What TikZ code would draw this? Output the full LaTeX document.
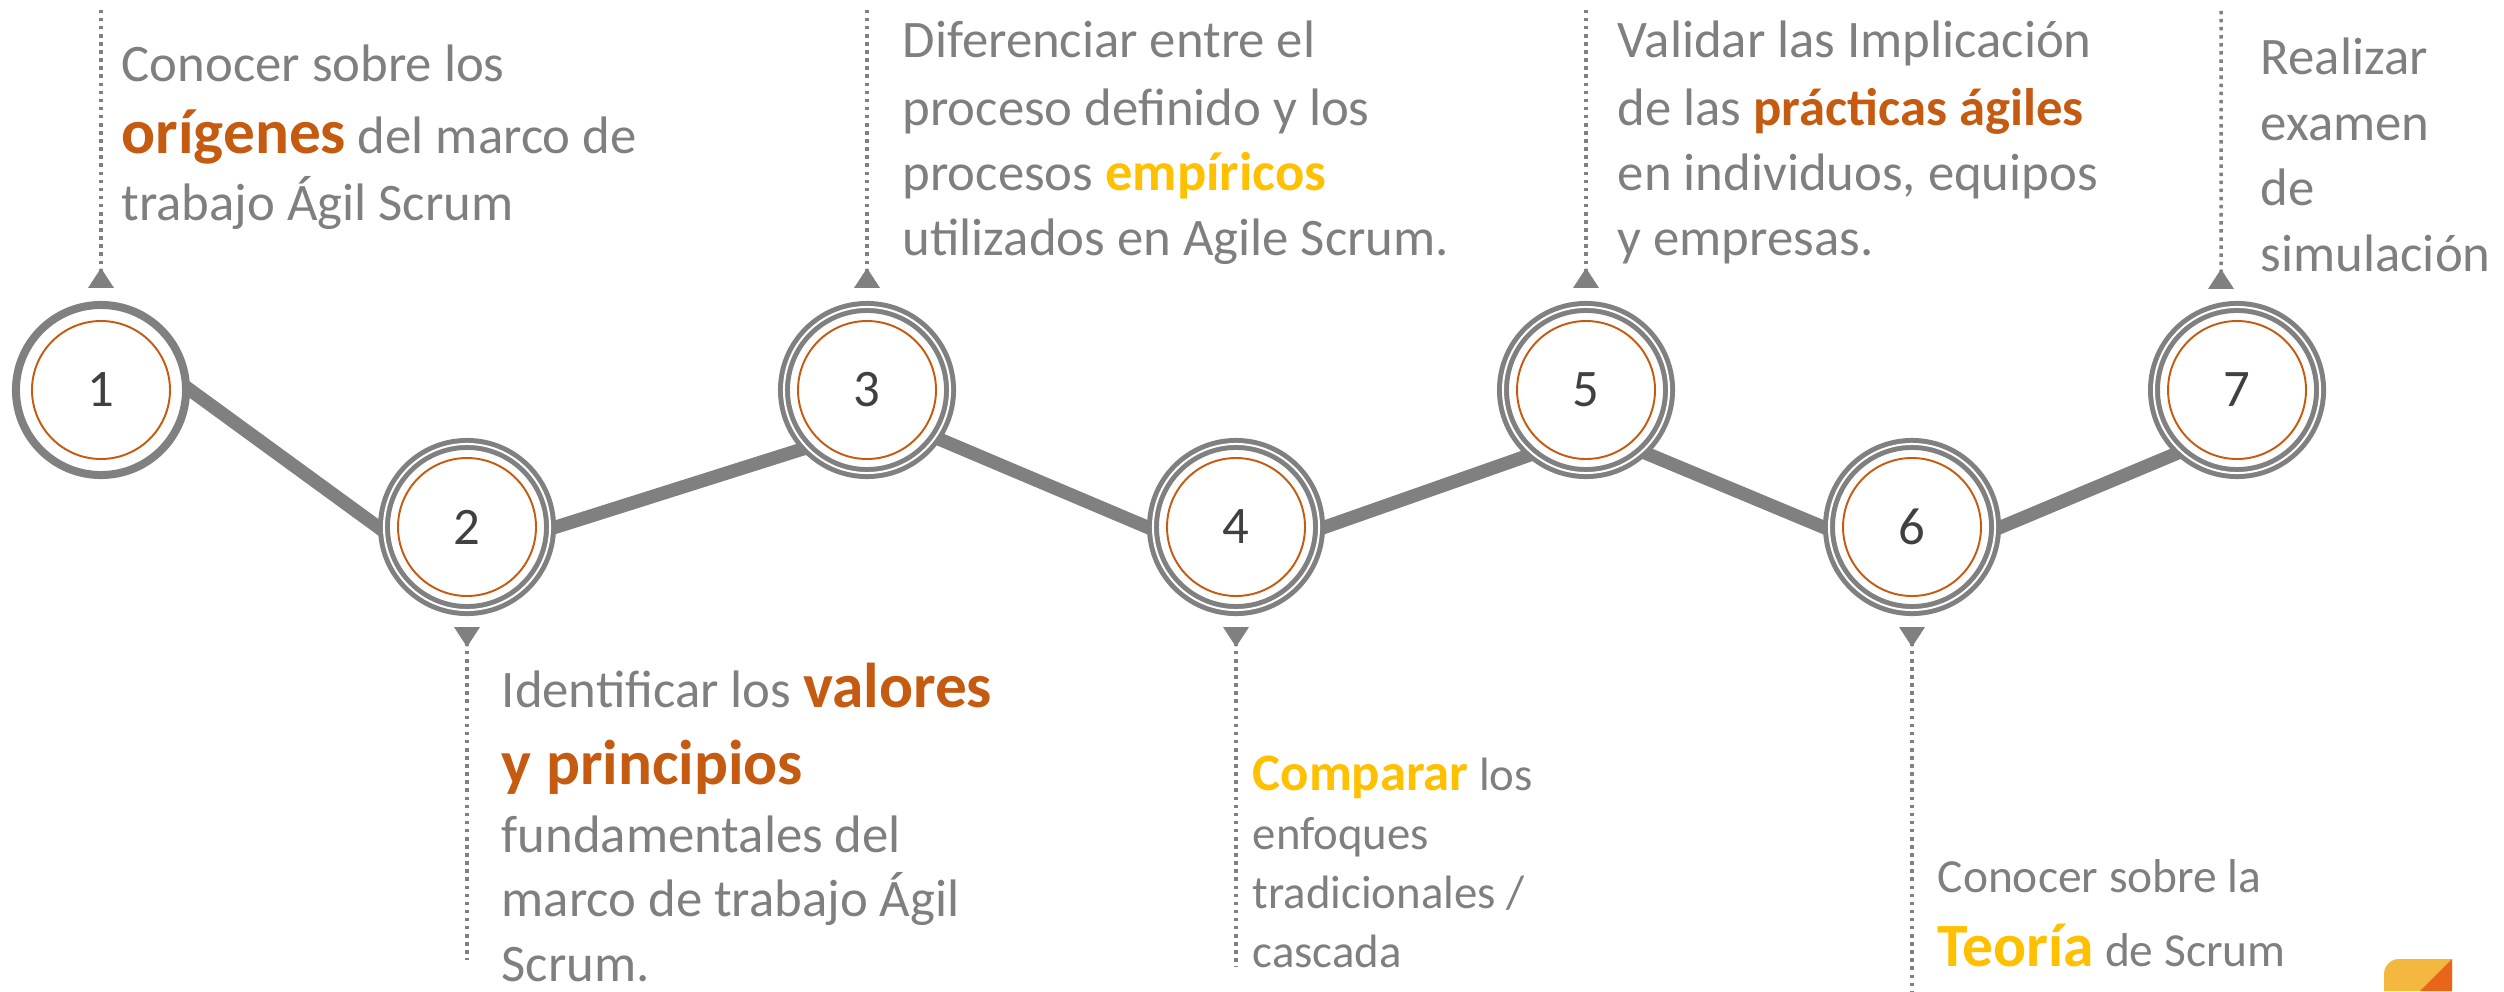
\documentclass[tikz,border=0pt]{standalone}
\usepackage{fontspec}
\setmainfont{Carlito}
\usetikzlibrary{arrows.meta, backgrounds}

\definecolor{ringgray}{HTML}{808080}
\definecolor{textgray}{HTML}{7F7F7F}
\definecolor{numgray}{HTML}{404040}
\definecolor{rust}{HTML}{C55A11}
\definecolor{gold}{HTML}{FFC000}
\definecolor{logoyellow}{HTML}{F4B740}
\definecolor{logoorange}{HTML}{E8651A}

\newcommand{\rustword}[2][18]{{\fontsize{#1}{#1}\selectfont\bfseries\color{rust}#2}}
\newcommand{\goldword}[2][15]{{\fontsize{#1}{#1}\selectfont\bfseries\color{gold}#2}}

\tikzset{
  firststep/.style={circle, draw=ringgray, line width=2.28pt, fill=white, minimum size=1.70cm,
    outer sep=0.04cm, inner sep=0pt, text=numgray, font=\fontsize{15}{18}\selectfont},
  stepring/.style={firststep, line width=1.42pt, double=white, double distance=0.57pt,
    minimum size=1.66cm, outer sep=0.06cm},
  innerring/.style={draw=rust, line width=0.55pt},
  link/.style={draw=ringgray, line width=3.8pt, shorten <=-0.07cm, shorten >=-0.07cm},
  guide/.style={draw=ringgray, line width=1pt, dash pattern=on 1pt off 1.3pt,
    {Triangle[reversed, width=0.25cm, length=0.2cm]}-},
  blurb/.style={anchor=base west, align=left, inner sep=0pt, text=textgray},
}

\begin{document}
\begin{tikzpicture}[x=0.01cm, y=-0.01cm]
    \useasboundingbox (0,0) rectangle (2504,991);

    % steps
    \node[firststep] (s1) at (101,390) {1};
    \node[stepring] (s2) at (467,527) {2};
    \node[stepring] (s3) at (867,390) {3};
    \node[stepring] (s4) at (1236,527) {4};
    \node[stepring] (s5) at (1586,390) {5};
    \node[stepring] (s6) at (1912,527) {6};
    \node[stepring] (s7) at (2237,390) {7};
    \foreach \n in {1,...,7}
        \draw[innerring] (s\n.center) circle (69);

    \begin{scope}[on background layer]
        \draw[link] (s1.east) -- (s2.west);
        \draw[link] (s2.east) -- (s3.222);
        \draw[link] (s3.326) -- (s4.west);
        \draw[link] (s4.east) -- (s5.228);
        \draw[link] (s5.314) -- (s6.west);
        \draw[link] (s6.east) -- (s7.226);
    \end{scope}

    % dotted guides
    \coordinate (t1) at (101,9);
    \coordinate (t3) at (867,9);
    \coordinate (t5) at (1586,8);
    \coordinate (t7) at (2221,8);
    \coordinate (t2) at (467,960);
    \coordinate (t4) at (1236,967);
    \coordinate (t6) at (1912,991);
    \draw[guide] ([yshift=0.13cm]s1.north) -- (t1);
    \draw[guide] ([yshift=0.13cm]s3.north) -- (t3);
    \draw[guide] ([yshift=0.13cm]s5.north) -- (t5);
    \draw[guide] ([xshift=-0.16cm, yshift=0.12cm]s7.north) -- (t7);
    \draw[guide] ([yshift=-0.11cm]s2.south) -- (t2);
    \draw[guide] ([yshift=-0.11cm]s4.south) -- (t4);
    \draw[guide] ([yshift=-0.11cm]s6.south) -- (t6);

    % texts (anchored at the baseline of the last line)
    \node[blurb, font=\fontsize{15}{19.1}\selectfont] (d1) at (121,221)
        {Conocer sobre los\\[1.4pt] \rustword{orígenes} del marco de\\ trabajo Ágil Scrum};
    \node[blurb, font=\fontsize{15}{18.3}\selectfont] (d2) at (501,981)
        {Identificar los \rustword{valores}\\[3.6pt] \rustword{y principios}\\[1pt]
         fundamentales del\\ marco de trabajo Ágil\\ Scrum.};
    \node[blurb, font=\fontsize{15}{18.4}\selectfont] (d3) at (902,255)
        {Diferenciar entre el\\[1pt] proceso definido y los\\ procesos \goldword[15.5]{empíricos}\\
         utilizados en Agile Scrum.};
    \node[blurb, font=\fontsize{13.3}{16.7}\selectfont] (d4) at (1252,967)
        {\goldword{Comparar} los\\ enfoques\\ tradicionales /\\ cascada};
    \node[blurb, font=\fontsize{15}{18.4}\selectfont] (d5) at (1617,255)
        {Validar las Implicación\\[1pt] de las \rustword[15]{prácticas ágiles}\\
         en individuos, equipos\\ y empresas.};
    \node[blurb, font=\fontsize{13.5}{20.8}\selectfont] (d6) at (1937,966)
        {Conocer sobre la\\ \goldword[17.5]{Teoría} de Scrum};
    \node[blurb, font=\fontsize{15}{18.6}\selectfont] (d7) at (2260,271)
        {Realizar\\ examen\\ de\\ simulación};

    % corner mark
    \fill[logoyellow] (2384,991) [rounded corners=0.15cm] -- (2384,959) [sharp corners] -- (2452,959) -- (2452,991) -- cycle;
    \fill[logoorange] (2452,959) -- (2452,991) -- (2420,991) -- cycle;
\end{tikzpicture}
\end{document}
